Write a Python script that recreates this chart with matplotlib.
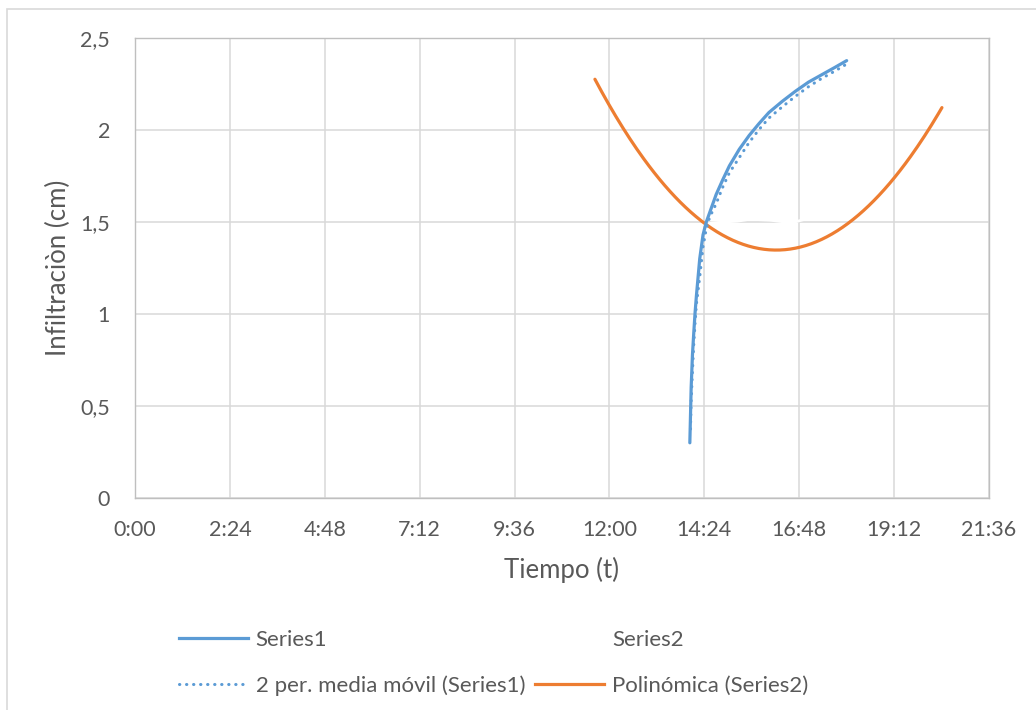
import numpy as np
import pandas as pd
import matplotlib
matplotlib.use("Agg")
import matplotlib.pyplot as plt
from matplotlib.lines import Line2D
from matplotlib.patches import Rectangle
from matplotlib.ticker import FuncFormatter

plt.rcParams["font.family"] = ["Lato", "DejaVu Sans"]

# Series1: infiltration readings (clock time, cm)
series1_time = ["14:02", "14:03", "14:04", "14:06", "14:08", "14:10", "14:12",
                "14:17", "14:22", "14:27", "14:32", "14:42", "14:52", "15:02",
                "15:17", "15:32", "15:47", "16:02", "16:22", "16:42", "17:02",
                "17:22", "17:42", "18:00"]
series1_cm = [0.30, 0.45, 0.60, 0.78, 0.90, 1.01, 1.10,
              1.30, 1.43, 1.50, 1.55, 1.65, 1.73, 1.805,
              1.895, 1.97, 2.035, 2.095, 2.155, 2.21, 2.26,
              2.30, 2.34, 2.377]

# Series2: drawn in white (fraction of day, cm)
series2_day = [0.5954, 0.6080, 0.6217, 0.6354, 0.6480, 0.6691, 0.6849, 0.6955, 0.7060]
series2_cm = [1.48, 1.495, 1.50, 1.505, 1.515, 1.51, 1.50, 1.50, 1.515]

# points (fraction of day, cm)
trend_day = [0.4847, 0.4995, 0.5142, 0.5954, 0.6723, 0.7513, 0.8156, 0.8504]
trend_cm = [2.281, 2.147, 2.00, 1.50, 1.352, 1.50, 1.848, 2.114]

x_ticks = [i * 0.1 for i in range(10)]
y_ticks = [0, 0.5, 1, 1.5, 2, 2.5]

blue = "#5B9BD5"
orange = "#ED7D31"
text_col = "#595959"
grid_col = "#D9D9D9"

s1 = pd.DataFrame({"t": pd.to_timedelta([s + ":00" for s in series1_time]), "cm": series1_cm})
s1["day"] = s1["t"].dt.total_seconds() / 86400.0
# Excel style 2-period moving average, placed at the later point
ma = s1["cm"].rolling(2).mean()

coef = np.polyfit(trend_day, trend_cm, 2)
xx = np.linspace(min(trend_day), max(trend_day), 200)
yy = np.polyval(coef, xx)

fig = plt.figure(figsize=(10.36, 7.10), dpi=100)
ax = fig.add_axes([135 / 1036, 1 - 498 / 710, (989 - 135) / 1036, (498 - 38) / 710])

fig.patches.append(Rectangle((7 / 1036, -0.05), 1.2, 1 - 9 / 710 + 0.05,
                             transform=fig.transFigure, fill=False,
                             edgecolor=grid_col, lw=1.2, zorder=0))

ax.plot(series2_day, series2_cm, color="white", lw=2.0, zorder=2)
ax.plot(xx, yy, color=orange, lw=2.3, solid_capstyle="round", zorder=3)
ax.plot(s1["day"], s1["cm"], color=blue, lw=2.3, solid_capstyle="round", zorder=4)
ax.plot(s1["day"], ma, color=blue, lw=2.2, linestyle=(0, (0.1, 2.2)),
        dash_capstyle="round", zorder=4)

ax.set_xlim(0, 0.9)
ax.set_ylim(0, 2.5)
ax.set_xticks(x_ticks)
ax.set_yticks(y_ticks)


def fmt_time(v, pos):
    mins = int(round(v * 1440))
    return f"{mins // 60}:{mins % 60:02d}"


ax.xaxis.set_major_formatter(FuncFormatter(fmt_time))
ax.yaxis.set_major_formatter(FuncFormatter(lambda v, p: f"{v:g}".replace(".", ",")))
ax.grid(True, color=grid_col, lw=1.1, zorder=0)
ax.set_axisbelow(True)
for sp in ax.spines.values():
    sp.set_color("#BFBFBF")
    sp.set_linewidth(1.0)
ax.tick_params(axis="x", length=0, labelsize=15.5, colors=text_col, pad=16)
ax.tick_params(axis="y", length=0, labelsize=15.5, colors=text_col, pad=18)

ax.set_xlabel("Tiempo (t)", fontsize=18.5, color=text_col, labelpad=12)
ax.set_ylabel("Infiltraciòn (cm)", fontsize=18.5, color=text_col, labelpad=7)

handles = [
    Line2D([], [], color=blue, lw=2.3),
    Line2D([], [], color=blue, lw=2.2, linestyle=(0, (0.1, 2.2)), dash_capstyle="round"),
    Line2D([], [], color="white", lw=2.3),
    Line2D([], [], color=orange, lw=2.3),
]
labels = ["Series1", "2 per. media móvil (Series1)", "Series2", "Polinómica (Series2)"]
leg = fig.legend(handles, labels, ncol=2, loc="upper left",
                 bbox_to_anchor=(179 / 1036, 1 - 630 / 710), frameon=False,
                 fontsize=16, handlelength=3.1, handletextpad=0.35,
                 columnspacing=0.45, labelspacing=1.15, borderpad=0, borderaxespad=0)
for t in leg.get_texts():
    t.set_color(text_col)

fig.savefig("out.png", dpi=100)
